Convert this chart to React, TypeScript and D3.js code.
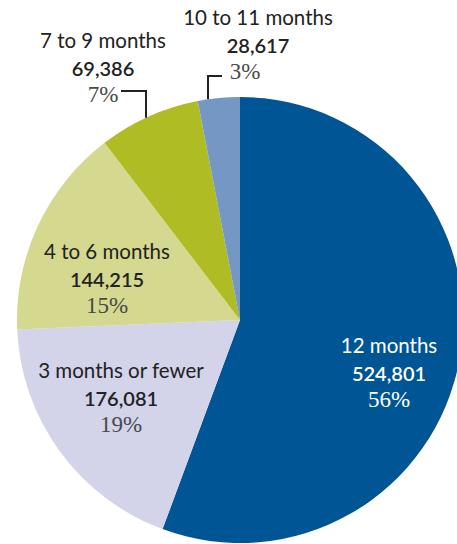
import React from 'react';
import * as d3 from 'd3';

// durations and counts, clockwise from 12 o'clock
const categories = ['12 months', '3 months or fewer', '4 to 6 months', '7 to 9 months', '10 to 11 months'];
const counts = [524801, 176081, 144215, 69386, 28617];
const percents = ['56%', '19%', '15%', '7%', '3%'];
const colors = ['#005595', '#d3d3ea', '#d4d98f', '#b0bc23', '#7597c4'];

const width = 457;
const height = 544;
const cx = 240;
const cy = 320;
const radius = 223;

// where each label block sits (center x, first baseline y)
const labelPos = [
  { x: 389, y: 353, px: 389, light: true },
  { x: 121, y: 378, px: 121 },
  { x: 107, y: 259, px: 107 },
  { x: 103, y: 48, px: 103 },
  { x: 258, y: 25, px: 245 },
];

const sans = "'Lato', 'Open Sans', sans-serif";
const serif = "'Liberation Serif', 'DejaVu Serif', serif";

const App = () => {
  const pie = d3.pie<number>().sort(null).value((d) => d);
  const arcs = pie(counts);
  const arc = d3.arc<d3.PieArcDatum<number>>().innerRadius(0).outerRadius(radius);

  const edgeY = (x: number) => cy - Math.sqrt(radius * radius - (x - cx) * (x - cx));

  // leader lines for the two small slices
  const l7x = 146;
  const l3x = 208;

  return (
    <svg width={width} height={height} style={{ position: 'absolute', left: 0, top: 0, background: '#fff' }}>
      <g transform={`translate(${cx},${cy})`}>
        {arcs.map((a, i) => (
          <path key={i} d={arc(a) || ''} fill={colors[i]} />
        ))}
      </g>
      <path d={`M${l7x},${edgeY(l7x)}V91H121`} fill="none" stroke="#222" strokeWidth={2} />
      <path d={`M${l3x},${edgeY(l3x)}V76H222`} fill="none" stroke="#222" strokeWidth={2} />
      {categories.map((c, i) => {
        const p = labelPos[i];
        const dark = p.light ? '#fff' : '#222';
        const pc = p.light ? '#fff' : '#4a4a4a';
        return (
          <g key={c}>
            <text x={p.x} y={p.y} textAnchor="middle" fontFamily={sans} fontSize={20.5} fill={dark}>{c}</text>
            <text x={p.x} y={p.y + 28} textAnchor="middle" fontFamily={sans} fontSize={20} fontWeight={600} fill={dark}>
              {d3.format(',')(counts[i])}
            </text>
            <text x={p.px} y={p.y + 54} textAnchor="middle" fontFamily={serif} fontSize={23} fill={pc}>
              {percents[i]}
            </text>
          </g>
        );
      })}
    </svg>
  );
};

export default App;
